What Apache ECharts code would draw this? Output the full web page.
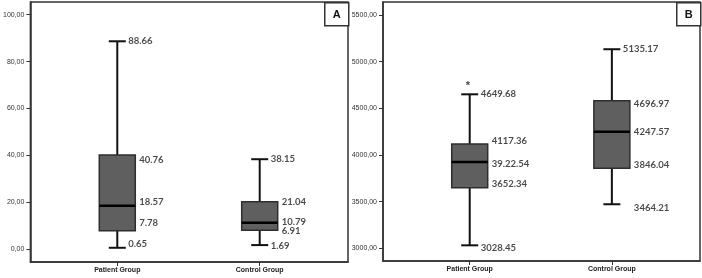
<!DOCTYPE html>
<html>
<head>
<meta charset="utf-8">
<script src="https://cdn.jsdelivr.net/npm/echarts@6/dist/echarts.min.js"></script>
<style>
  html, body { margin: 0; padding: 0; background: #fff; }
  #chart { width: 702px; height: 278px; }
</style>
</head>
<body>
<div id="chart"></div>
<script>
const groups = ['Patient Group', 'Control Group'];

// box stats: [min, Q1, median, Q3, max]
const statsAPatient = [0.65, 7.9, 18.6, 40.2, 88.66];
const statsAControl = [1.8, 8.1, 11.3, 20.3, 38.4];
const statsBPatient = [3032, 3650, 3925, 4118, 4650];
const statsBControl = [3472, 3857, 4250, 4582, 5133];
const outliersB = [[0, 4772]];

const ticksA = [0, 20, 40, 60, 80, 100];
const ticksB = [3000, 3500, 4000, 4500, 5000, 5500];

// value labels as printed, and the height they sit at
const textAPatient = ['88.66', '40.76', '18.57', '7.78', '0.65'];
const atAPatient = [88.66, 38.1, 20.3, 11.3, 2.4];
const textAControl = ['38.15', '21.04', '10.79', '6.91', '1.69'];
const atAControl = [38.4, 20.3, 11.5, 7.8, 1.5];
const textBPatient = ['4649.68', '4117.36', '39.22.54', '3652.34', '3028.45'];
const atBPatient = [4650, 4150, 3903, 3686, 3000];
const textBControl = ['5135.17', '4696.97', '4247.57', '3846.04', '3464.21'];
const atBControl = [5133, 4543, 4243, 3890, 3429];

const labelFont = "'Lato', sans-serif";
const tickFont = "'Liberation Sans', sans-serif";

function boxRender(params, api) {
  const x = api.value(0);
  const lo = api.coord([x, api.value(1)]);
  const q1 = api.coord([x, api.value(2)]);
  const md = api.coord([x, api.value(3)]);
  const q3 = api.coord([x, api.value(4)]);
  const hi = api.coord([x, api.value(5)]);
  const cx = lo[0];
  const bh = 18, ch = 8.5;
  const ln = {stroke: '#111', lineWidth: 2};
  return {
    type: 'group',
    children: [
      {type: 'line', shape: {x1: cx, y1: hi[1], x2: cx, y2: q3[1]}, style: ln},
      {type: 'line', shape: {x1: cx, y1: q1[1], x2: cx, y2: lo[1]}, style: ln},
      {type: 'line', shape: {x1: cx - ch, y1: hi[1], x2: cx + ch, y2: hi[1]}, style: ln},
      {type: 'line', shape: {x1: cx - ch, y1: lo[1], x2: cx + ch, y2: lo[1]}, style: ln},
      {type: 'rect', shape: {x: cx - bh, y: q3[1], width: bh * 2, height: q1[1] - q3[1]},
        style: {fill: '#5f5f5f', stroke: '#2e2e2e', lineWidth: 1.5}},
      {type: 'line', shape: {x1: cx - bh, y1: md[1], x2: cx + bh, y2: md[1]}, style: {stroke: '#000', lineWidth: 2.5}}
    ]
  };
}

function labelData(x, texts, ats, stats) {
  return texts.map((t, i) => {
    // labels next to a whisker cap sit closer to the box centre
    const nearCap = (i === 0) || (i === 4 && Math.abs(ats[i] - stats[0]) < Math.abs(stats[4] - stats[0]) * 0.02);
    return {value: [x, ats[i]], text: t, label: {position: [nearCap ? 11 : 22, 0]}};
  });
}

function yAxisCfg(idx, min, max, ticks) {
  return {
    gridIndex: idx, type: 'value', min: min, max: max,
    axisLine: {show: true, onZero: false, lineStyle: {color: '#333', width: 1.5}},
    splitLine: {show: false},
    axisTick: {show: true, length: 4, customValues: ticks, lineStyle: {color: '#333', width: 1}},
    axisLabel: {
      customValues: ticks, margin: 6, fontSize: 7, color: '#333', fontFamily: tickFont,
      formatter: v => v.toFixed(2).replace('.', ',')
    }
  };
}

function xAxisCfg(idx) {
  return {
    gridIndex: idx, type: 'value', min: -0.61, max: 1.62,
    axisLine: {show: true, onZero: false, lineStyle: {color: '#333', width: 1.5}},
    splitLine: {show: false},
    axisTick: {show: true, length: 4, customValues: [0, 1], lineStyle: {color: '#333', width: 1}},
    axisLabel: {
      customValues: [0, 1], margin: 5, fontSize: 7, fontWeight: 'bold', color: '#222', fontFamily: tickFont,
      formatter: v => groups[Math.round(v)]
    }
  };
}

function labelSeries(idx, data) {
  return {
    type: 'scatter', xAxisIndex: idx, yAxisIndex: idx, symbolSize: 0, silent: true,
    data: data,
    label: {
      show: true, formatter: p => p.data.text, align: 'left', verticalAlign: 'middle',
      fontFamily: labelFont, fontWeight: 'bold', fontSize: 9.5, color: '#1a1a1a'
    }
  };
}

const chart = echarts.init(document.getElementById('chart'), null, {renderer: 'canvas'});
chart.setOption({
  animation: false,
  backgroundColor: '#fff',
  grid: [
    {left: 26, top: 2, width: 322, height: 260, show: true, borderColor: '#333', borderWidth: 1.5, backgroundColor: 'transparent'},
    {left: 383, top: 2, width: 317, height: 259, show: true, borderColor: '#333', borderWidth: 1.5, backgroundColor: 'transparent'}
  ],
  xAxis: [xAxisCfg(0), xAxisCfg(1)],
  yAxis: [yAxisCfg(0, -5.41, 105.4, ticksA), yAxisCfg(1, 2864, 5639, ticksB)],
  graphic: [
    {type: 'group', left: 324, top: 2, children: [
      {type: 'rect', shape: {x: 0, y: 0, width: 24, height: 23}, style: {fill: '#fff', stroke: '#333', lineWidth: 1.5}},
      {type: 'text', x: 12, y: 12, style: {text: 'A', fill: '#111', font: "bold 11px 'Liberation Sans', sans-serif", align: 'center', verticalAlign: 'middle'}}
    ]},
    {type: 'group', left: 676, top: 2, children: [
      {type: 'rect', shape: {x: 0, y: 0, width: 24, height: 23}, style: {fill: '#fff', stroke: '#333', lineWidth: 1.5}},
      {type: 'text', x: 12, y: 12, style: {text: 'B', fill: '#111', font: "bold 11px 'Liberation Sans', sans-serif", align: 'center', verticalAlign: 'middle'}}
    ]}
  ],
  series: [
    {type: 'custom', xAxisIndex: 0, yAxisIndex: 0, renderItem: boxRender,
      data: [[0].concat(statsAPatient), [1].concat(statsAControl)]},
    {type: 'custom', xAxisIndex: 1, yAxisIndex: 1, renderItem: boxRender,
      data: [[0].concat(statsBPatient), [1].concat(statsBControl)]},
    labelSeries(0, labelData(0, textAPatient, atAPatient, statsAPatient).concat(labelData(1, textAControl, atAControl, statsAControl))),
    labelSeries(1, labelData(0, textBPatient, atBPatient, statsBPatient).concat(labelData(1, textBControl, atBControl, statsBControl))),
    {type: 'scatter', xAxisIndex: 1, yAxisIndex: 1, symbolSize: 0, silent: true, data: outliersB,
      label: {show: true, formatter: '*', position: [-4, 3], align: 'left', verticalAlign: 'middle',
        fontFamily: "'Liberation Sans', sans-serif", fontWeight: 'bold', fontSize: 11, color: '#111'}}
  ]
});
</script>
</body>
</html>
